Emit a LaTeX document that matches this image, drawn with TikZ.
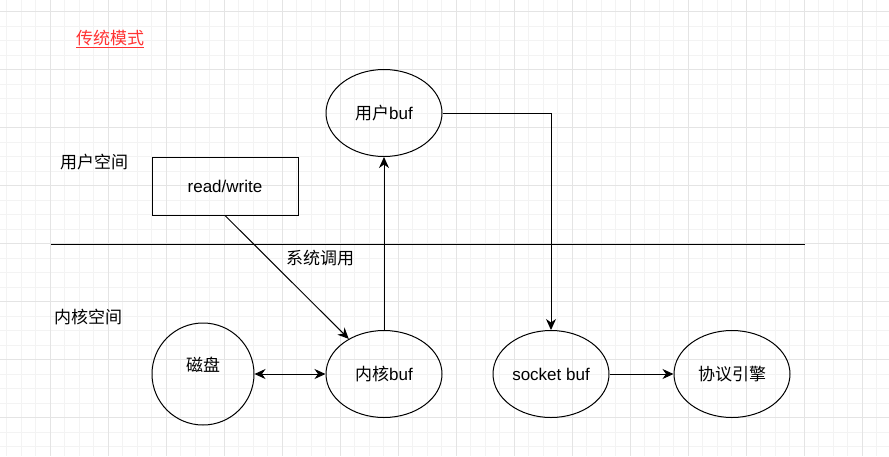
\documentclass[tikz,border=0pt]{standalone}
\usepackage{fontspec}
\setmainfont{Liberation Sans}
\newfontfamily\cjk{Noto Sans CJK SC}
\definecolor{titlered}{RGB}{255, 51, 51}
\definecolor{gridminor}{RGB}{243, 243, 243}
\definecolor{gridmajor}{RGB}{228, 228, 228}
\usetikzlibrary{shapes.geometric, arrows.meta, positioning}

\tikzset{
  lbl/.style={font=\fontsize{17}{20}\selectfont},
  bufnode/.style={draw, ellipse, line width=1pt, minimum width=116pt, minimum height=87pt, inner sep=0pt, font=\fontsize{17}{20}\selectfont},
  arr/.style={line width=1pt, -{Stealth[length=11pt, width=10pt, inset=3.5pt]}},
  dblarr/.style={line width=1pt, {Stealth[length=11pt, width=10pt, inset=3.5pt]}-{Stealth[length=11pt, width=10pt, inset=3.5pt]}}
}

\begin{document}
\begin{tikzpicture}[x=1pt, y=-1pt]
  \useasboundingbox (0,0) rectangle (889,456);
  \fill[white] (0,0) rectangle (889,456);

  % Grid
  \foreach \x in {6.5,21,...,889} \draw[gridminor, line width=1pt] (\x,0) -- (\x,456);
  \foreach \y in {-2.8,11.7,...,456} \draw[gridminor, line width=1pt] (0,\y) -- (889,\y);
  \foreach \x in {50,108,...,889} \draw[gridmajor, line width=1pt] (\x,0) -- (\x,456);
  \foreach \y in {11.7,69.7,...,456} \draw[gridmajor, line width=1pt] (0,\y) -- (889,\y);

  % Labels
  \node[lbl, text=titlered] (title) at (110,39) {\cjk\underline{传统模式}};
  \node[lbl] (userspace) at (94,162) {\cjk 用户空间};
  \node[lbl] (kernelspace) at (88,317) {\cjk 内核空间};
  \node[lbl] (syscall) at (320,258) {\cjk 系统调用};

  % Boundary between user and kernel space
  \coordinate (sepL) at (51,244);
  \coordinate (sepR) at (805,244);
  \draw[line width=1pt] (sepL) -- (sepR);

  % Boxes
  \node[draw, lbl, line width=1pt, minimum width=146pt, minimum height=58pt] (rw) at (225,186) {read/write};
  \node[bufnode] (ubuf) at (384,113) {{\cjk 用户}buf};
  \node[bufnode] (kbuf) at (384,374) {{\cjk 内核}buf};
  \node[bufnode] (sbuf) at (551,374) {socket buf};
  \node[bufnode] (proto) at (732,374) {\cjk 协议引擎};
  \node[draw, circle, line width=1pt, minimum size=102pt, inner sep=0pt,
        label={[lbl, yshift=9pt]center:\cjk 磁盘}] (disk) at (203,374) {};

  % Data flow
  \draw[arr] (rw.south) -- (kbuf);
  \draw[arr] (kbuf) -- (ubuf);
  \draw[arr] (ubuf.east) -| (sbuf.north);
  \draw[dblarr] (disk) -- (kbuf);
  \draw[arr] (sbuf) -- (proto);
\end{tikzpicture}
\end{document}
